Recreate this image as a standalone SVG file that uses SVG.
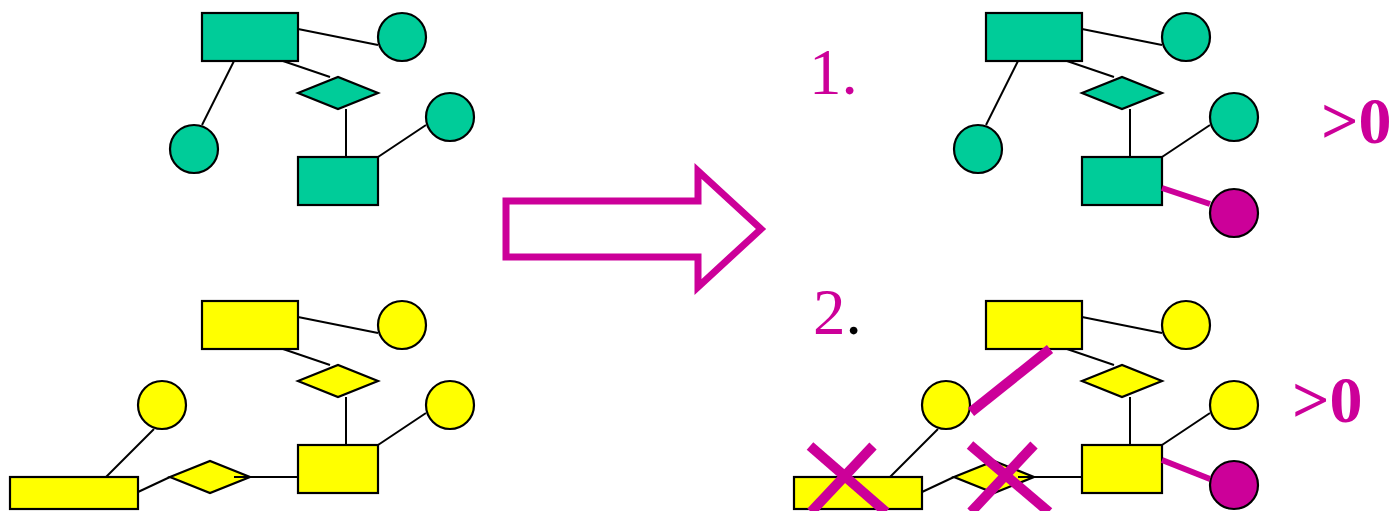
<svg xmlns="http://www.w3.org/2000/svg" width="1391" height="511" viewBox="0 0 1391 511">
<style>
.g{fill:#00CC99;stroke:#000;stroke-width:2.2}
.y{fill:#FFFF00;stroke:#000;stroke-width:2.2}
.m{fill:#CC0099;stroke:#000;stroke-width:2.2}
.c{stroke:#000;stroke-width:2;fill:none}
.mc{stroke:#CC0099;stroke-width:6;fill:none}
.mark{stroke:#CC0099;stroke-width:10;fill:none}
.num{font-family:"Liberation Serif","Times New Roman",serif;font-size:65px;fill:#CC0099}
.gt{font-family:"Liberation Serif","Times New Roman",serif;font-size:66px;font-weight:bold;fill:#CC0099}
</style>
<rect width="1391" height="511" fill="#fff"/>

<!-- Top-left green graph -->
<g id="tl-e1"><rect class="g" x="202" y="13" width="96" height="48"/></g>
<g id="tl-a1"><circle class="g" cx="402" cy="37" r="24"/></g>
<g id="tl-a2"><circle class="g" cx="194" cy="149" r="24"/></g>
<g id="tl-r1"><polygon class="g" points="298,93 338,77 378,93 338,109"/></g>
<g id="tl-e2"><rect class="g" x="298" y="157" width="80" height="48"/></g>
<g id="tl-a3"><circle class="g" cx="450" cy="117" r="24"/></g>

<!-- Bottom-left yellow graph -->
<g id="bl-e1"><rect class="y" x="202" y="301" width="96" height="48"/></g>
<g id="bl-a1"><circle class="y" cx="402" cy="325" r="24"/></g>
<g id="bl-r1"><polygon class="y" points="298,381 338,365 378,381 338,397"/></g>
<g id="bl-e2"><rect class="y" x="298" y="445" width="80" height="48"/></g>
<g id="bl-a3"><circle class="y" cx="450" cy="405" r="24"/></g>
<g id="bl-a2"><circle class="y" cx="162" cy="405" r="24"/></g>
<g id="bl-e3"><rect class="y" x="10" y="477" width="128" height="32"/></g>
<g id="bl-r2"><polygon class="y" points="170,477 210,461 250,477 210,493"/></g>

<!-- Top-right green graph -->
<g id="tr-e1"><rect class="g" x="986" y="13" width="96" height="48"/></g>
<g id="tr-a1"><circle class="g" cx="1186" cy="37" r="24"/></g>
<g id="tr-a2"><circle class="g" cx="978" cy="149" r="24"/></g>
<g id="tr-r1"><polygon class="g" points="1082,93 1122,77 1162,93 1122,109"/></g>
<g id="tr-e2"><rect class="g" x="1082" y="157" width="80" height="48"/></g>
<g id="tr-a3"><circle class="g" cx="1234" cy="117" r="24"/></g>
<g id="tr-a4"><circle class="m" cx="1234" cy="213" r="24"/></g>

<!-- Bottom-right yellow graph -->
<g id="br-e1"><rect class="y" x="986" y="301" width="96" height="48"/></g>
<g id="br-a1"><circle class="y" cx="1186" cy="325" r="24"/></g>
<g id="br-r1"><polygon class="y" points="1082,381 1122,365 1162,381 1122,397"/></g>
<g id="br-e2"><rect class="y" x="1082" y="445" width="80" height="48"/></g>
<g id="br-a3"><circle class="y" cx="1234" cy="405" r="24"/></g>
<g id="br-a4"><circle class="m" cx="1234" cy="485" r="24"/></g>
<g id="br-a2"><circle class="y" cx="946" cy="405" r="24"/></g>
<g id="br-e3"><rect class="y" x="794" y="477" width="128" height="32"/></g>
<g id="br-r2"><polygon class="y" points="954,477 994,461 1034,477 994,493"/></g>

<!-- Connectors -->
<g id="connectors">
  <line class="c" x1="298" y1="29" x2="378" y2="45"/>
  <line class="c" x1="234" y1="61" x2="202" y2="125"/>
  <line class="c" x1="283" y1="61" x2="330" y2="77"/>
  <line class="c" x1="346" y1="109" x2="346" y2="157"/>
  <line class="c" x1="378" y1="157" x2="426" y2="125"/>

  <line class="c" x1="298" y1="317" x2="378" y2="333"/>
  <line class="c" x1="283" y1="349" x2="330" y2="365"/>
  <line class="c" x1="346" y1="397" x2="346" y2="445"/>
  <line class="c" x1="378" y1="445" x2="426" y2="413"/>
  <line class="c" x1="154" y1="429" x2="106" y2="477"/>
  <line class="c" x1="138" y1="492" x2="170" y2="477"/>
  <line class="c" x1="234" y1="477" x2="298" y2="477"/>

  <line class="c" x1="1082" y1="29" x2="1162" y2="45"/>
  <line class="c" x1="1018" y1="61" x2="986" y2="125"/>
  <line class="c" x1="1067" y1="61" x2="1114" y2="77"/>
  <line class="c" x1="1130" y1="109" x2="1130" y2="157"/>
  <line class="c" x1="1162" y1="157" x2="1210" y2="125"/>
  <line class="mc" x1="1162" y1="188" x2="1210" y2="204"/>

  <line class="c" x1="1082" y1="317" x2="1162" y2="333"/>
  <line class="c" x1="1067" y1="349" x2="1114" y2="365"/>
  <line class="c" x1="1130" y1="397" x2="1130" y2="445"/>
  <line class="c" x1="1162" y1="445" x2="1210" y2="413"/>
  <line class="c" x1="938" y1="429" x2="890" y2="477"/>
  <line class="c" x1="922" y1="492" x2="954" y2="477"/>
  <line class="c" x1="1018" y1="477" x2="1082" y2="477"/>
  <line class="mc" x1="1162" y1="460" x2="1210" y2="479"/>
</g>

<!-- Big hollow arrow -->
<polygon points="506,201 698,201 698,171 761,229 698,287 698,257 506,257" fill="none" stroke="#CC0099" stroke-width="7" stroke-miterlimit="10"/>

<!-- Labels -->
<text class="num" x="809" y="94">1.</text>
<text class="num" x="813" y="334">2<tspan fill="#000">.</tspan></text>
<text class="gt" x="1321" y="143">&gt;0</text>
<text class="gt" x="1292" y="422">&gt;0</text>

<!-- Marks -->
<line class="mark" x1="1050" y1="349" x2="971" y2="412"/>
<line class="mark" x1="810" y1="446" x2="886" y2="512"/>
<line class="mark" x1="873" y1="446" x2="811" y2="512"/>
<line class="mark" x1="970" y1="445" x2="1049" y2="512"/>
<line class="mark" x1="1034" y1="445" x2="971" y2="512"/>
</svg>
